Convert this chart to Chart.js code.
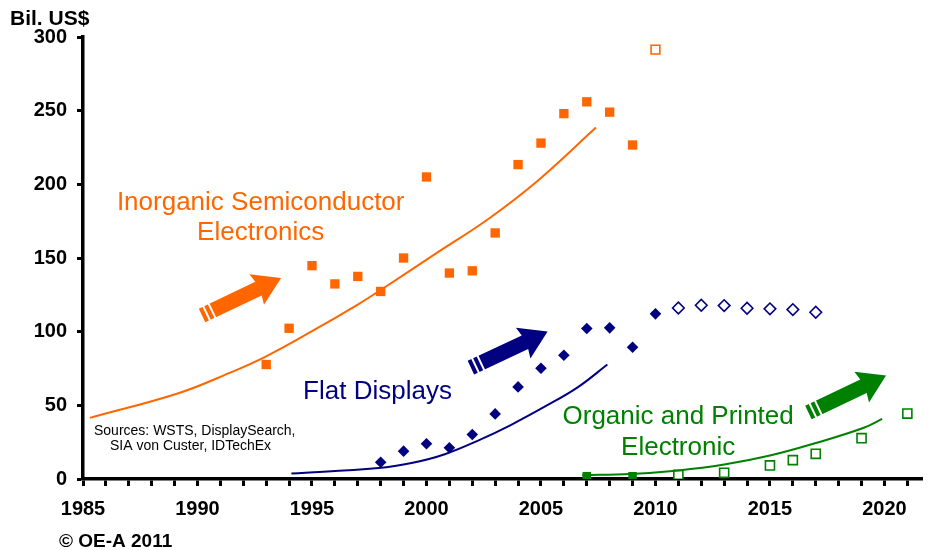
<!DOCTYPE html>
<html>
<head>
<meta charset="utf-8">
<script src="https://cdn.jsdelivr.net/npm/chart.js@4.4.1/dist/chart.umd.min.js"></script>
<style>
  html, body { margin: 0; padding: 0; background: #fff; }
  canvas { display: block; }
</style>
</head>
<body>
<canvas id="chart" width="930" height="550"></canvas>
<script>
// Market size, billions of US$

// Inorganic semiconductor electronics
const semiYears = [1993, 1994, 1995, 1996, 1997, 1998, 1999, 2000, 2001, 2002, 2003, 2004, 2005, 2006, 2007, 2008, 2009];
const semiValues = [77.7, 102.3, 144.8, 132.4, 137.5, 127.3, 150, 205, 139.8, 141.3, 167, 213.4, 228, 248, 256, 249, 226.7];
const semiForecastYears = [2010];
const semiForecastValues = [291.4];
const semiTrendYears = [1985.3, 1989.2, 1991.4, 1993, 1995, 1997, 1998, 2000.5, 2002.7, 2004.9, 2007.4];
const semiTrendValues = [41.5, 58.4, 72.0, 83.3, 100.3, 118.4, 128.3, 154, 176.5, 203, 238.5];

// Flat displays
const flatYears = [1998, 1999, 2000, 2001, 2002, 2003, 2004, 2005, 2006, 2007, 2008, 2009, 2010];
const flatValues = [11.4, 18.9, 23.9, 21.2, 30.2, 44.2, 62.5, 75.2, 84, 102.1, 102.6, 89.4, 112.1];
const flatForecastYears = [2011, 2012, 2013, 2014, 2015, 2016, 2017];
const flatForecastValues = [116.1, 117.9, 117.7, 115.9, 115.5, 115, 113.2];
const flatTrendYears = [1994.1, 1997.9, 1999.4, 2000.8, 2002.3, 2003.7, 2005.2, 2006.6, 2007.9];
const flatTrendValues = [3.7, 7.4, 11.0, 16.8, 26.4, 36.8, 49.4, 62.2, 77.7];

// Organic and printed electronics
const organicYears = [2007, 2009];
const organicValues = [1.9, 1.9];
const organicForecastYears = [2011, 2013, 2015, 2016, 2017, 2019, 2021];
const organicForecastValues = [2.8, 4.2, 9.2, 12.8, 17.1, 27.7, 44.4];
const organicTrendYears = [2006.8, 2008.9, 2011, 2013, 2015, 2017, 2019.1, 2019.9];
const organicTrendValues = [2.6, 3.4, 5.8, 9.8, 15.9, 24.4, 34.8, 40.8];

// Axis labels
const yearLabels = [1985, 1990, 1995, 2000, 2005, 2010, 2015, 2020];
const valueLabels = [0, 50, 100, 150, 200, 250, 300];

const ORANGE = '#FF6600';
const NAVY = '#000080';
const GREEN = '#008000';
const FONT = '"Liberation Sans", Arial, Helvetica, sans-serif';

const pts = (xs, ys) => xs.map((x, i) => ({ x, y: ys[i] }));

function trend(xs, ys, color) {
  return {
    data: pts(xs, ys), showLine: true, borderColor: color, borderWidth: 2,
    pointRadius: 0, tension: 0.4, fill: false
  };
}
function markers(xs, ys, color, style, radius, hollow) {
  return {
    data: pts(xs, ys), showLine: false, pointStyle: style, pointRadius: radius,
    pointHoverRadius: radius,
    backgroundColor: hollow ? '#ffffff' : color,
    borderColor: color, borderWidth: hollow ? 1.6 : 0
  };
}

// Labels and arrows placed in data coordinates
const labels = [
  { lines: ['Inorganic Semiconductor', 'Electronics'], x: 1992.76, y: 182.8, color: ORANGE },
  { lines: ['Flat Displays'], x: 1997.86, y: 54.4, color: NAVY },
  { lines: ['Organic and Printed', 'Electronic'], x: 2010.99, y: 37.0, color: GREEN }
];
const arrows = [
  { from: [1990.2, 111], to: [1993.65, 136.5], color: ORANGE },
  { from: [2001.94, 75.6], to: [2005.29, 100.1], color: NAVY },
  { from: [2016.68, 45.1], to: [2020.07, 70.2], color: GREEN }
];

function drawArrow(ctx, x0, y0, x1, y1, color) {
  const len = Math.hypot(x1 - x0, y1 - y0);
  const hw = 7.5, headLen = 25, headHw = 17;
  ctx.save();
  ctx.translate(x0, y0);
  ctx.rotate(Math.atan2(y1 - y0, x1 - x0));
  ctx.fillStyle = color;
  ctx.beginPath();
  ctx.moveTo(0, -hw);
  ctx.lineTo(len - headLen, -hw);
  ctx.lineTo(len - headLen - 2, -headHw);
  ctx.lineTo(len, 0);
  ctx.lineTo(len - headLen - 2, headHw);
  ctx.lineTo(len - headLen, hw);
  ctx.lineTo(0, hw);
  ctx.closePath();
  ctx.fill();
  ctx.fillStyle = '#ffffff';
  ctx.fillRect(4, -hw - 1, 2, 2 * hw + 2);
  ctx.fillRect(10, -hw - 1, 2, 2 * hw + 2);
  ctx.restore();
}

const annotations = {
  id: 'annotations',
  afterDraw(chart) {
    const { ctx, scales: { x, y } } = chart;
    ctx.save();
    arrows.forEach(a => drawArrow(ctx,
      x.getPixelForValue(a.from[0]), y.getPixelForValue(a.from[1]),
      x.getPixelForValue(a.to[0]), y.getPixelForValue(a.to[1]), a.color));

    ctx.textAlign = 'center';
    ctx.textBaseline = 'alphabetic';
    ctx.font = '26px ' + FONT;
    labels.forEach(l => {
      const px = x.getPixelForValue(l.x), py = y.getPixelForValue(l.y);
      ctx.fillStyle = l.color;
      l.lines.forEach((t, i) => ctx.fillText(t, px, py + i * 30.5));
    });

    // Sources note
    ctx.textAlign = 'left';
    ctx.fillStyle = '#000';
    ctx.font = '14px ' + FONT;
    ctx.fillText('Sources: WSTS, DisplaySearch,', 94, 435);
    ctx.fillText('SIA von Custer, IDTechEx', 110, 450);

    // Unit and copyright
    ctx.font = 'bold 21px ' + FONT;
    ctx.fillText('Bil. US$', 10, 25);
    ctx.font = 'bold 19px ' + FONT;
    ctx.fillText('\u00A9 OE-A 2011', 59, 546.5);
    ctx.restore();
  }
};

new Chart(document.getElementById('chart'), {
  type: 'scatter',
  data: {
    datasets: [
      trend(semiTrendYears, semiTrendValues, ORANGE),
      trend(flatTrendYears, flatTrendValues, NAVY),
      trend(organicTrendYears, organicTrendValues, GREEN),
      markers(semiYears, semiValues, ORANGE, 'rect', 6.6, false),
      markers(semiForecastYears, semiForecastValues, ORANGE, 'rect', 6.2, true),
      markers(flatYears, flatValues, NAVY, 'rectRot', 5.8, false),
      markers(flatForecastYears, flatForecastValues, NAVY, 'rectRot', 5.8, true),
      markers(organicYears, organicValues, GREEN, 'rect', 6.0, false),
      markers(organicForecastYears, organicForecastValues, GREEN, 'rect', 6.4, true)
    ]
  },
  options: {
    responsive: false,
    animation: false,
    devicePixelRatio: 1,
    layout: { padding: { top: 37, right: 4, bottom: 0, left: 0 } },
    plugins: { legend: { display: false }, tooltip: { enabled: false } },
    scales: {
      x: {
        type: 'linear',
        min: 1985,
        max: 2021.64,
        afterFit(scale) { scale.height = 71; },
        ticks: {
          stepSize: 1,
          includeBounds: false,
          autoSkip: false,
          maxRotation: 0,
          padding: 11,
          color: '#000',
          font: { family: FONT, size: 20, weight: 'bold' },
          callback: v => yearLabels.includes(v) ? String(v) : ''
        },
        grid: { drawOnChartArea: false, drawTicks: true, tickLength: 7, tickWidth: 3, tickColor: '#000' },
        border: { display: true, color: '#000', width: 3.5 }
      },
      y: {
        min: 0,
        max: 300,
        afterFit(scale) { scale.width = 83; },
        ticks: {
          stepSize: 50,
          padding: 10,
          color: '#000',
          font: { family: FONT, size: 20, weight: 'bold' },
          callback: v => valueLabels.includes(v) ? String(v) : ''
        },
        grid: { drawOnChartArea: false, drawTicks: true, tickLength: 6, tickWidth: 3, tickColor: '#000' },
        border: { display: true, color: '#000', width: 3.5 }
      }
    }
  },
  plugins: [annotations]
});
</script>
</body>
</html>
